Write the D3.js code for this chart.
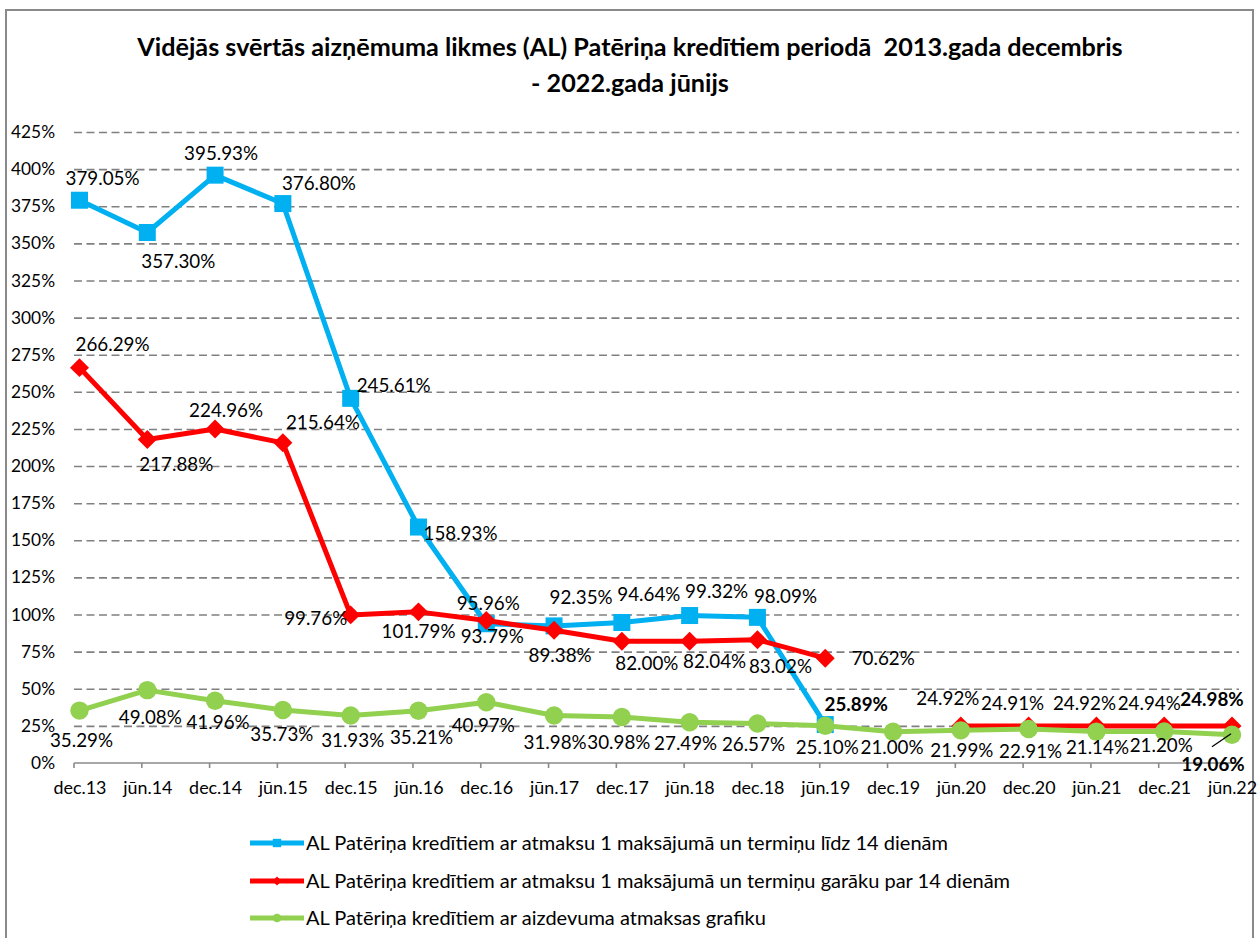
<!DOCTYPE html>
<html>
<head>
<meta charset="utf-8">
<script src="https://cdn.jsdelivr.net/npm/d3@7"></script>
<style>
  html, body { margin: 0; padding: 0; background: #fff; }
  svg { display: block; }
</style>
</head>
<body>
<script>
// ---------------- data ----------------
const categories = ["dec.13","jūn.14","dec.14","jūn.15","dec.15","jūn.16","dec.16","jūn.17","dec.17","jūn.18","dec.18","jūn.19","dec.19","jūn.20","dec.20","jūn.21","dec.21","jūn.22"];
const blueValues  = [379.05,357.30,395.93,376.80,245.61,158.93,93.79,92.35,94.64,99.32,98.09,25.89,null,null,null,null,null,null];
const redValues   = [266.29,217.88,224.96,215.64,99.76,101.79,95.96,89.38,82.00,82.04,83.02,70.62,null,24.92,24.91,24.92,24.94,24.98];
const greenValues = [35.29,49.08,41.96,35.73,31.93,35.21,40.97,31.98,30.98,27.49,26.57,25.10,21.00,21.99,22.91,21.14,21.20,19.06];
const yTickValues = [0,25,50,75,100,125,150,175,200,225,250,275,300,325,350,375,400,425];
const seriesNames = [
  "AL Patēriņa kredītiem ar atmaksu 1 maksājumā un termiņu līdz 14 dienām",
  "AL Patēriņa kredītiem ar atmaksu 1 maksājumā un termiņu garāku par 14 dienām",
  "AL Patēriņa kredītiem ar aizdevuma atmaksas grafiku"
];
const titleLines = ["Vidējās svērtās aizņēmuma likmes (AL) Patēriņa kredītiem periodā  2013.gada decembris", "- 2022.gada jūnijs"];

// label placement offsets (layout only)
const blueLabelOffsets = [[23,-22],[31,29],[6,-22],[36,-20],[43,-13],[42,6],[6,13],[27,-28],[27,-28],[27,-24],[28,-21],[31,-20]];
const redLabelOffsets  = [[33,-23],[29,25],[11,-19],[40,-20],[-35,4],[0,20],[2,-17],[6,25],[25,22],[25,20],[23,27],[58,0],null,[-13,-28],[-16,-23],[-12,-23],[-15,-23],[-20,-26]];
const greenLabelOffsets= [[2,30],[3,27],[3,22],[-1,24],[2,25],[3,27],[-3,23],[1,27],[-3,25],[-4,21],[-4,21],[2,22],[-1,16],[1,20],[2,22],[1,16],[-3,14],[-19,30]];
const boldBlue = [11], boldRed = [17], boldGreen = [17];

// ---------------- setup ----------------
const W = 1258, H = 938;
const FONT = "Lato, 'Open Sans', sans-serif";
const svg = d3.select("body").append("svg").attr("width", W).attr("height", H);
svg.append("rect").attr("width", W).attr("height", H).attr("fill", "#fff");

function fitSize(text, width, weight) {
  const t = svg.append("text").attr("font-family", FONT).attr("font-size", 100)
    .attr("font-weight", weight || "normal").text(text);
  const w = t.node().getComputedTextLength();
  t.remove();
  return 100 * width / w;
}

// outer border
svg.append("rect").attr("x", 6).attr("y", 10).attr("width", 1247).attr("height", 960)
  .attr("fill", "none").attr("stroke", "#8a8a8a").attr("stroke-width", 2);

// title
const titleSize = fitSize(titleLines[0], 980, "bold");
svg.append("text").attr("x", 630).attr("y", 47).attr("dy", "0.35em")
  .attr("text-anchor", "middle").attr("font-family", FONT).attr("font-weight", "bold")
  .attr("font-size", titleSize).attr("fill", "#000").style("white-space", "pre").text(titleLines[0]);
svg.append("text").attr("x", 630).attr("y", 83).attr("dy", "0.35em")
  .attr("text-anchor", "middle").attr("font-family", FONT).attr("font-weight", "bold")
  .attr("font-size", titleSize).attr("fill", "#000").text(titleLines[1]);

// scales
const x = d3.scalePoint().domain(categories).range([79.5, 1232]);
const y = d3.scaleLinear().domain([0, 425]).range([763, 132]);
const plotLeft = 74, plotRight = 1239;

// gridlines
const grid = svg.append("g").attr("transform", `translate(${plotLeft},0)`)
  .call(d3.axisLeft(y).tickValues(yTickValues.filter(v => v > 0)).tickSize(-(plotRight - plotLeft)).tickFormat(""));
grid.select(".domain").remove();
grid.selectAll(".tick line").attr("stroke", "#808080").attr("stroke-width", 1.6).attr("stroke-dasharray", "8,4.5");

// y labels
const yLabelSize = fitSize("425%", 44);
const yAx = svg.append("g").attr("transform", "translate(55,0)")
  .call(d3.axisLeft(y).tickValues(yTickValues).tickSize(0).tickPadding(0).tickFormat(d => d + "%"));
yAx.select(".domain").remove();
yAx.selectAll("text").attr("font-family", FONT).attr("font-size", yLabelSize).attr("fill", "#000");

// x axis
const xLabelSize = fitSize("dec.13", 53);
const xAx = svg.append("g").attr("transform", "translate(0,763)")
  .call(d3.axisBottom(x).tickSize(0).tickPadding(18.5).tickSizeOuter(0));
xAx.select(".domain").remove();
xAx.selectAll("text").attr("font-family", FONT).attr("font-size", xLabelSize).attr("fill", "#000");
svg.append("line").attr("x1", plotLeft).attr("x2", plotRight).attr("y1", 763).attr("y2", 763)
  .attr("stroke", "#8a8a8a").attr("stroke-width", 1.6);
svg.append("g").selectAll("line").data(categories).join("line")
  .attr("x1", d => x(d) - 5.5).attr("x2", d => x(d) - 5.5).attr("y1", 763).attr("y2", 768)
  .attr("stroke", "#8a8a8a").attr("stroke-width", 1.6);

// series
const series = [
  { values: blueValues, color: "#00B0F0", marker: "square", offsets: blueLabelOffsets, bold: boldBlue },
  { values: redValues, color: "#FF0000", marker: "diamond", offsets: redLabelOffsets, bold: boldRed },
  { values: greenValues, color: "#92D050", marker: "circle", offsets: greenLabelOffsets, bold: boldGreen }
];
const line = d3.line().defined(d => d.v != null).x(d => x(d.c)).y(d => y(d.v));
const symbolFor = {
  square: d3.symbol().type(d3.symbolSquare).size(289),
  diamond: d3.symbol().type(d3.symbolSquare).size(180),
  circle: d3.symbol().type(d3.symbolCircle).size(Math.PI * 85)
};

series.forEach(s => {
  const pts = categories.map((c, i) => ({ c, v: s.values[i], i }));
  const g = svg.append("g");
  g.append("path").datum(pts).attr("d", line).attr("fill", "none")
    .attr("stroke", s.color).attr("stroke-width", 5).attr("stroke-linejoin", "round");
  g.selectAll("path.m").data(pts.filter(d => d.v != null)).join("path").attr("class", "m")
    .attr("d", symbolFor[s.marker])
    .attr("transform", d => `translate(${x(d.c)},${y(d.v)})` + (s.marker === "diamond" ? " rotate(45)" : ""))
    .attr("fill", s.color);
});

// data labels
const labelSize = fitSize("379.05%", 74);
series.forEach(s => {
  const pts = categories.map((c, i) => ({ c, v: s.values[i], i })).filter(d => d.v != null);
  svg.append("g").selectAll("text").data(pts).join("text")
    .attr("x", d => x(d.c) + s.offsets[d.i][0])
    .attr("y", d => y(d.v) + s.offsets[d.i][1])
    .attr("dy", "0.35em")
    .attr("text-anchor", "middle")
    .attr("font-family", FONT).attr("font-size", labelSize)
    .attr("font-weight", d => s.bold.includes(d.i) ? "bold" : "normal")
    .attr("fill", "#000")
    .text(d => d.v.toFixed(2) + "%");
});
// leader line for last green label
{
  const c = categories[17], v = greenValues[17];
  svg.append("line").attr("x1", x(c) - 20).attr("y1", y(v) + 12).attr("x2", x(c) - 1).attr("y2", y(v) - 1)
    .attr("stroke", "#000").attr("stroke-width", 1.3);
}

// legend
const legendSize = fitSize(seriesNames[0], 642);
const legendY = [843, 881, 918];
series.forEach((s, i) => {
  const g = svg.append("g").attr("transform", `translate(0,${legendY[i]})`);
  g.append("line").attr("x1", 250).attr("x2", 304).attr("y1", 0).attr("y2", 0)
    .attr("stroke", s.color).attr("stroke-width", 5);
  const sym = s.marker === "square" ? d3.symbol().type(d3.symbolSquare).size(70)
    : s.marker === "diamond" ? d3.symbol().type(d3.symbolSquare).size(40)
    : d3.symbol().type(d3.symbolCircle).size(60);
  g.append("path").attr("d", sym).attr("transform", `translate(277,0)` + (s.marker === "diamond" ? " rotate(45)" : ""))
    .attr("fill", s.color);
  g.append("text").attr("x", 306).attr("y", 0).attr("dy", "0.35em")
    .attr("font-family", FONT).attr("font-size", legendSize).attr("fill", "#000").text(seriesNames[i]);
});
</script>
</body>
</html>
